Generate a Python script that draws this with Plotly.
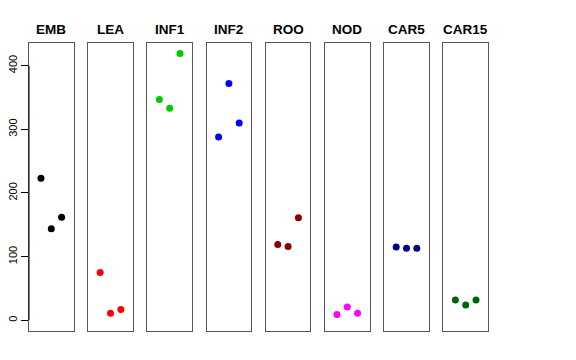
import plotly.graph_objects as go

categories = ["EMB", "LEA", "INF1", "INF2", "ROO", "NOD", "CAR5", "CAR15"]
colors = ["#000000", "#FF0000", "#00CD00", "#0000FF", "#8B0000", "#FF00FF", "#00008B", "#006400"]
reps = [1, 2, 3]
emb = [223, 144, 162]
lea = [75, 11, 17]
inf1 = [347, 333, 419]
inf2 = [288, 372, 310]
roo = [119, 116, 161]
nod = [9, 21, 11]
car5 = [115, 113, 113]
car15 = [32, 24, 32]
values = [emb, lea, inf1, inf2, roo, nod, car5, car15]
y_ticks = [0, 100, 200, 300, 400]

OFF = 8  # page body margin in browser
W, H = 576 - 2 * OFF, 360 - 2 * OFF
fig = go.Figure()
left0, step, pw = 29.0 - OFF, 59.2, 44.6
top, bottom = 43.0 - OFF, 331.0 - OFF
title_y = 29.0 - OFF
yrange = [-16.8, 435.6]

for i, (cat, col, vals) in enumerate(zip(categories, colors, values)):
    n = "" if i == 0 else str(i + 1)
    x0 = (left0 + i * step) / W
    x1 = (left0 + i * step + pw) / W
    fig.add_trace(go.Scatter(x=reps, y=vals, mode="markers",
                             marker=dict(color=col, size=7),
                             xaxis="x" + n, yaxis="y" + n, showlegend=False))
    fig.layout["xaxis" + n] = dict(domain=[x0, x1], range=[-0.16, 4.16],
                                   showgrid=False, zeroline=False, showticklabels=False,
                                   ticks="", showline=True, mirror=True, automargin=False,
                                   linecolor="#555555", linewidth=1, anchor="y" + n,
                                   fixedrange=True)
    ydict = dict(domain=[(H - bottom) / H, (H - top) / H], range=yrange, automargin=False,
                 showgrid=False, zeroline=False, showline=True, mirror=True,
                 linecolor="#555555", linewidth=1, anchor="x" + n, fixedrange=True)
    if i == 0:
        ydict.update(tickmode="array", tickvals=y_ticks, ticktext=[str(t) for t in y_ticks],
                     ticks="outside", ticklen=7, tickcolor="#000000", tickangle=-90,
                     tickfont=dict(family="Liberation Sans, Arial", size=11, color="#000000"))
    else:
        ydict.update(showticklabels=False, ticks="")
    fig.layout["yaxis" + n] = ydict
    fig.add_annotation(text="<b>" + cat + "</b>", x=(x0 + x1) / 2, y=(H - title_y) / H,
                       xref="paper", yref="paper", showarrow=False,
                       font=dict(family="Liberation Sans, Arial", size=13.5, color="#000000"),
                       xanchor="center", yanchor="middle")

# black axis segment spanning the tick range (R style)
fig.add_shape(type="line", xref="paper", yref="y", x0=left0 / W, x1=left0 / W,
              y0=min(y_ticks), y1=max(y_ticks), line=dict(color="#000000", width=1))

fig.update_layout(width=W, height=H, margin=dict(l=0, r=0, t=0, b=0),
                  paper_bgcolor="white", plot_bgcolor="white")
fig.write_html("out.html")
